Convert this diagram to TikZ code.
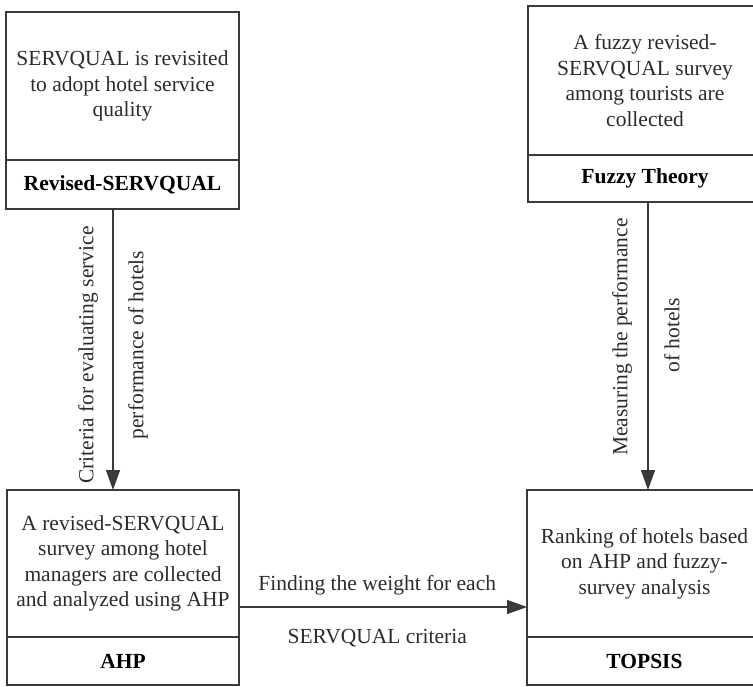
\documentclass[tikz,border=0pt]{standalone}
\usepackage{fontspec}
\setmainfont{Liberation Serif}
\usetikzlibrary{arrows.meta,positioning}

\definecolor{ink}{HTML}{2B2B2B}
\definecolor{edge}{HTML}{3A3A3A}

\tikzset{
  txt/.style={font=\fontsize{21.5bp}{25.5bp}\selectfont, text=ink, align=center},
  bodybox/.style={txt, draw=edge, line width=1.5bp, inner sep=0pt, outer sep=0pt},
  namebox/.style={bodybox, font=\fontsize{21.5bp}{25.5bp}\selectfont\bfseries, text=black},
  vlab/.style={txt, rotate=90, inner sep=0pt},
  flow/.style={draw=edge, line width=1.5bp, -{Triangle[length=20bp,width=14bp]}}
}

\begin{document}
\begin{tikzpicture}[x=1bp,y=-1bp]
  \useasboundingbox (0,0) rectangle (753,687);
  \clip (0,0) rectangle (753,687);

  % Revised-SERVQUAL
  \node[bodybox, minimum width=233bp, minimum height=148bp] (sq) at (122.5,86)
    {SERVQUAL is revisited\\to adopt hotel service\\quality};
  \node[namebox, minimum width=233bp, minimum height=49bp, below=0pt of sq] (sqn)
    {Revised-SERVQUAL};

  % Fuzzy Theory
  \node[bodybox, minimum width=234bp, minimum height=149bp] (fz) at (645,80.5)
    {A fuzzy revised-\\SERVQUAL survey\\among tourists are\\collected};
  \node[namebox, minimum width=234bp, minimum height=47bp, below=0pt of fz] (fzn)
    {Fuzzy Theory};

  % AHP
  \node[bodybox, minimum width=232bp, minimum height=147bp] (ahp) at (123,563.5)
    {A revised-SERVQUAL\\survey among hotel\\managers are collected\\and analyzed using AHP};
  \node[namebox, minimum width=232bp, minimum height=48bp, below=0pt of ahp] (ahpn)
    {AHP};

  % TOPSIS
  \node[bodybox, minimum width=235bp, minimum height=147bp] (tp) at (644.5,563.5)
    {Ranking of hotels based\\on AHP and fuzzy-\\survey analysis};
  \node[namebox, minimum width=235bp, minimum height=48bp, below=0pt of tp] (tpn)
    {TOPSIS};

  % connectors
  \draw[flow] ([xshift=-9.5bp]sqn.south) -- ([xshift=-10bp]ahp.north);
  \draw[flow] ([xshift=3bp]fzn.south) -- ([xshift=3.5bp]tp.north);
  \draw[flow] ([yshift=-43.5bp]ahp.east) -- ([yshift=-43.5bp]tp.west)
    node[txt, pos=0.48, yshift=22bp] (w1) {Finding the weight for each}
    node[txt, pos=0.48, yshift=-31bp] (w2) {SERVQUAL criteria};

  % side labels of the vertical connectors
  \node[vlab] (c1) at (88,355) {Criteria for evaluating service};
  \node[vlab] (c2) at (138,345) {performance of hotels};
  \node[vlab] (m1) at (622,337) {Measuring the performance};
  \node[vlab] (m2) at (672,335) {of hotels};
\end{tikzpicture}
\end{document}
